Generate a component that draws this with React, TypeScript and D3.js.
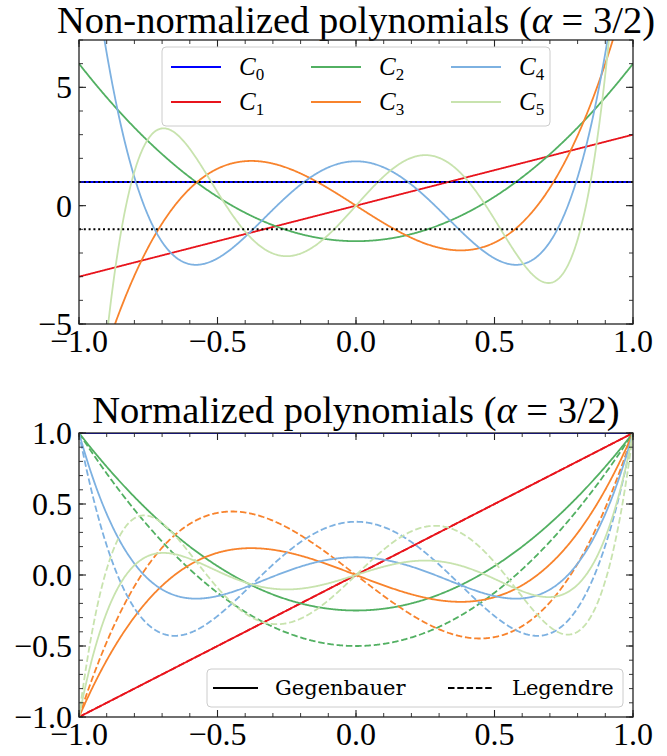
import React from "react";
import * as d3 from "d3";

// ---- data (polynomial coefficients, ascending powers of x) ----
const ALPHA_LABEL = "3/2";
const DEGREES = [0, 1, 2, 3, 4, 5];
const GEGENBAUER_COEFFS: number[][] = [
  [1],
  [0, 3],
  [-1.5, 0, 7.5],
  [0, -7.5, 0, 17.5],
  [1.875, 0, -26.25, 0, 39.375],
  [0, 13.125, 0, -78.75, 0, 86.625],
];
const GEGENBAUER_AT_ONE = [1, 3, 6, 10, 15, 21];
const LEGENDRE_COEFFS: number[][] = [
  [1],
  [0, 1],
  [-0.5, 0, 1.5],
  [0, -1.5, 0, 2.5],
  [0.375, 0, -3.75, 0, 4.375],
  [0, 1.875, 0, -8.75, 0, 7.875],
];
const COLORS = ["#0000ff", "#e8141c", "#52b062", "#f8832c", "#7db1e1", "#c8e3ae"];
const REF_LINES = [1, -1];
const X_TICKS = [-1, -0.5, 0, 0.5, 1];
const X_TICK_LABELS = ["\u22121.0", "\u22120.5", "0.0", "0.5", "1.0"];
const TOP_Y_TICKS = [-5, 0, 5];
const TOP_Y_TICK_LABELS = ["\u22125", "0", "5"];
const BOT_Y_TICKS = [-1, -0.5, 0, 0.5, 1];
const BOT_Y_TICK_LABELS = ["\u22121.0", "\u22120.5", "0.0", "0.5", "1.0"];
const X_MINOR = d3.range(-10, 11).map((i) => i / 10);
const TOP_Y_MINOR = d3.range(-5, 8);
const BOT_Y_MINOR = d3.range(-10, 11).map((i) => i / 10);
const LEGEND_STYLES = ["Gegenbauer", "Legendre"];

const W = 667;
const H = 756;
const L = 79;
const R = 633;
const TOP1 = 40;
const BOT1 = 324;
const TOP2 = 433;
const BOT2 = 717;

const XS = d3.range(0, 801).map((i) => -1 + (2 * i) / 800);
const evalPoly = (c: number[], x: number) => c.reduceRight((acc, a) => acc * x + a, 0);

const TICK_FONT = "'Liberation Serif', 'Times New Roman', serif";
const LEGEND_FONT = "'DejaVu Serif', serif";

function Axes(props: {
  top: number;
  bottom: number;
  y: d3.ScaleLinear<number, number>;
  yTicks: number[];
  yLabels: string[];
  yMinor: number[];
  clipId: string;
  children: React.ReactNode;
}) {
  const x = d3.scaleLinear().domain([-1, 1]).range([L, R]);
  const { top, bottom, y } = props;
  const major = 7;
  const minor = 4;
  const tc = "#222";
  return (
    <g>
      <defs>
        <clipPath id={props.clipId}>
          <rect x={L} y={top} width={R - L} height={bottom - top} />
        </clipPath>
      </defs>
      <g clipPath={`url(#${props.clipId})`}>{props.children}</g>
      {X_MINOR.map((v, i) => (
        <g key={"xm" + i} stroke={tc} strokeWidth={0.9}>
          <line x1={x(v)} x2={x(v)} y1={bottom} y2={bottom - minor} />
          <line x1={x(v)} x2={x(v)} y1={top} y2={top + minor} />
        </g>
      ))}
      {props.yMinor.map((v, i) => (
        <g key={"ym" + i} stroke={tc} strokeWidth={0.9}>
          <line x1={L} x2={L + minor} y1={y(v)} y2={y(v)} />
          <line x1={R} x2={R - minor} y1={y(v)} y2={y(v)} />
        </g>
      ))}
      {X_TICKS.map((v, i) => (
        <g key={"xM" + i} stroke={tc} strokeWidth={1.1}>
          <line x1={x(v)} x2={x(v)} y1={bottom} y2={bottom - major} />
          <line x1={x(v)} x2={x(v)} y1={top} y2={top + major} />
        </g>
      ))}
      {props.yTicks.map((v, i) => (
        <g key={"yM" + i} stroke={tc} strokeWidth={1.1}>
          <line x1={L} x2={L + major} y1={y(v)} y2={y(v)} />
          <line x1={R} x2={R - major} y1={y(v)} y2={y(v)} />
        </g>
      ))}
      <rect x={L} y={top} width={R - L} height={bottom - top} fill="none" stroke={tc} strokeWidth={1.3} />
      {X_TICKS.map((v, i) => (
        <text
          key={"xl" + i}
          x={x(v)}
          y={bottom + 28}
          textAnchor="middle"
          fontFamily={TICK_FONT}
          fontSize={32}
          fill="#000"
        >
          {X_TICK_LABELS[i]}
        </text>
      ))}
      {props.yTicks.map((v, i) => (
        <text
          key={"yl" + i}
          x={L - 7}
          y={y(v) + 11}
          textAnchor="end"
          fontFamily={TICK_FONT}
          fontSize={32}
          fill="#000"
        >
          {props.yLabels[i]}
        </text>
      ))}
    </g>
  );
}

function Title(props: { x: number; y: number; text: string }) {
  return (
    <text x={props.x} y={props.y} textAnchor="middle" fontFamily={TICK_FONT} fontSize={38.5} fill="#000">
      {props.text + " ("}
      <tspan fontStyle="italic">{"\u03b1"}</tspan>
      {" = " + ALPHA_LABEL + ")"}
    </text>
  );
}

export default function App() {
  const x = d3.scaleLinear().domain([-1, 1]).range([L, R]);
  const y1 = d3.scaleLinear().domain([-5, 7]).range([BOT1, TOP1]);
  const y2 = d3.scaleLinear().domain([-1, 1]).range([BOT2, TOP2]);
  const cx = (L + R) / 2;

  const makePath = (fn: (v: number) => number, ys: d3.ScaleLinear<number, number>) =>
    d3
      .line<number>()
      .x((d) => x(d))
      .y((d) => ys(Math.max(-60, Math.min(60, fn(d)))))(XS) || "";

  const lw = 1.8;

  return (
    <svg
      width={W}
      height={H}
      style={{ position: "absolute", left: 0, top: 0, background: "#fff" }}
      xmlns="http://www.w3.org/2000/svg"
    >
      <rect x={0} y={0} width={W} height={H} fill="#fff" />
      <Title x={cx} y={33} text="Non-normalized polynomials" />
      <Axes
        top={TOP1}
        bottom={BOT1}
        y={y1}
        yTicks={TOP_Y_TICKS}
        yLabels={TOP_Y_TICK_LABELS}
        yMinor={TOP_Y_MINOR}
        clipId="clipTop"
      >
        {DEGREES.map((n) => (
          <path
            key={"g" + n}
            d={makePath((v) => evalPoly(GEGENBAUER_COEFFS[n], v), y1)}
            fill="none"
            stroke={COLORS[n]}
            strokeWidth={lw}
          />
        ))}
        {REF_LINES.map((r, i) => (
          <line
            key={"ref" + i}
            x1={L}
            x2={R}
            y1={y1(r)}
            y2={y1(r)}
            stroke="#000"
            strokeWidth={2}
            strokeDasharray="2,2.8"
          />
        ))}
      </Axes>
      <g>
        <rect x={162} y={47} width={388} height={79} rx={4} fill="#fff" fillOpacity={0.8} stroke="#cccccc" strokeWidth={1} />
        {DEGREES.map((n) => {
          const col = Math.floor(n / 2);
          const row = n % 2;
          const lx = 171 + col * 140;
          const ly = 67 + row * 35;
          return (
            <g key={"lg" + n}>
              <line x1={lx} x2={lx + 50} y1={ly} y2={ly} stroke={COLORS[n]} strokeWidth={lw} />
              <text x={lx + 68} y={ly + 8} fontFamily={TICK_FONT} fontSize={25} fill="#000">
                <tspan fontStyle="italic">C</tspan>
                <tspan fontSize={17} dy={5}>
                  {String(n)}
                </tspan>
              </text>
            </g>
          );
        })}
      </g>

      <Title x={cx} y={423} text="Normalized polynomials" />
      <Axes
        top={TOP2}
        bottom={BOT2}
        y={y2}
        yTicks={BOT_Y_TICKS}
        yLabels={BOT_Y_TICK_LABELS}
        yMinor={BOT_Y_MINOR}
        clipId="clipBot"
      >
        {DEGREES.map((n) => (
          <g key={"nb" + n}>
            <path
              d={makePath((v) => evalPoly(GEGENBAUER_COEFFS[n], v) / GEGENBAUER_AT_ONE[n], y2)}
              fill="none"
              stroke={COLORS[n]}
              strokeWidth={lw}
            />
            <path
              d={makePath((v) => evalPoly(LEGENDRE_COEFFS[n], v), y2)}
              fill="none"
              stroke={COLORS[n]}
              strokeWidth={lw}
              strokeDasharray="6.5,2.8"
            />
          </g>
        ))}
      </Axes>
      <g>
        <rect x={207} y={669} width={416} height={38} rx={4} fill="#fff" fillOpacity={0.8} stroke="#cccccc" strokeWidth={1} />
        <line x1={213} x2={258} y1={688} y2={688} stroke="#000" strokeWidth={lw} />
        <text x={275} y={695} fontFamily={LEGEND_FONT} fontSize={21} fill="#000">
          {LEGEND_STYLES[0]}
        </text>
        <line x1={448} x2={493} y1={688} y2={688} stroke="#000" strokeWidth={lw} strokeDasharray="6.5,2.8" />
        <text x={512} y={695} fontFamily={LEGEND_FONT} fontSize={21} fill="#000">
          {LEGEND_STYLES[1]}
        </text>
      </g>
    </svg>
  );
}
